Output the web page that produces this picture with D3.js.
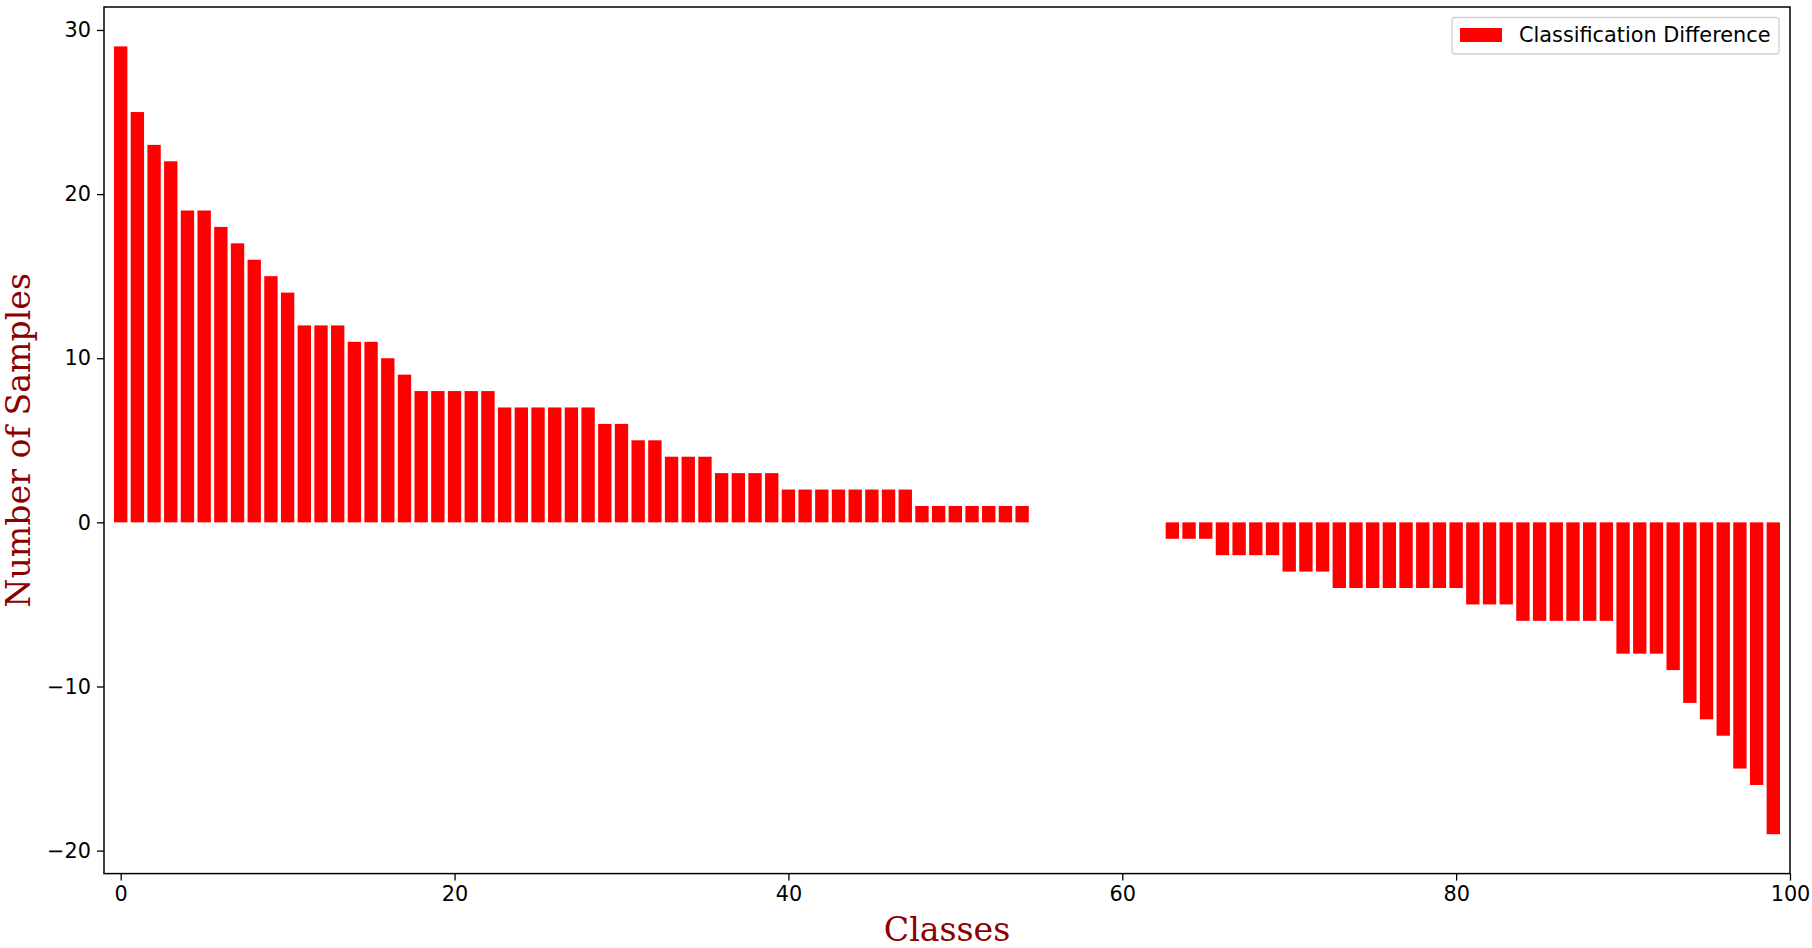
<!DOCTYPE html>
<html>
<head>
<meta charset="utf-8">
<script src="https://cdn.jsdelivr.net/npm/d3@7"></script>
<style>
	body { margin: 0; padding: 0; background: #fff; }
	.tick text { font-family: 'DejaVu Sans', sans-serif; font-size: 20.8px; fill: #000; }
	.tick line { stroke: #000; stroke-width: 1.3; }
	.domain { display: none; }
	.axis_label { font-family: 'DejaVu Serif', serif; font-size: 33.2px; fill: #8b0000; }
	.legend_text { font-family: 'DejaVu Sans', sans-serif; font-size: 20.8px; fill: #000; }
</style>
</head>
<body>
<div id="chart"></div>
<script>
var classes = d3.range(100);
var diffValues = [
	29, 25, 23, 22, 19, 19, 18, 17, 16, 15,
	14, 12, 12, 12, 11, 11, 10, 9, 8, 8,
	8, 8, 8, 7, 7, 7, 7, 7, 7, 6,
	6, 5, 5, 4, 4, 4, 3, 3, 3, 3,
	2, 2, 2, 2, 2, 2, 2, 2, 1, 1,
	1, 1, 1, 1, 1, 0, 0, 0, 0, 0,
	0, 0, 0, -1, -1, -1, -2, -2, -2, -2,
	-3, -3, -3, -4, -4, -4, -4, -4, -4, -4,
	-4, -5, -5, -5, -6, -6, -6, -6, -6, -6,
	-8, -8, -8, -9, -11, -12, -13, -15, -16, -19
];
var xTicks = [0, 20, 40, 60, 80, 100];
var yTicks = [-20, -10, 0, 10, 20, 30];
var seriesName = 'Classification Difference';

(function ()	{
	'use strict';

	var width = 1812, height = 948;
	var plot = { left: 104, right: 1790, top: 7, bottom: 873.6 };

	var svg = d3.select('#chart').append('svg')
							.attr('width', width)
							.attr('height', height);

	// matplotlib style limits: x fixed, y with 5% margins
	var yMin = d3.min(diffValues), yMax = d3.max(diffValues);
	var pad = (yMax - yMin) * 0.05;

	var x = d3.scaleLinear().domain([-1, 100]).range([plot.left, plot.right]);
	var y = d3.scaleLinear().domain([yMin - pad, yMax + pad])
						.range([plot.bottom, plot.top]);

	var barW = x(0.8) - x(0);

	svg.append('g')
		 .selectAll('rect')
		 .data(classes)
		 .enter().append('rect')
		 .attr('x', function (d) { return x(d - 0.4); })
		 .attr('y', function (d) { return y(Math.max(0, diffValues[d])); })
		 .attr('width', barW)
		 .attr('height', function (d) { return Math.abs(y(diffValues[d]) - y(0)); })
		 .attr('fill', '#ff0000');

	svg.append('g')
		 .attr('transform', 'translate(' + plot.left + ', 0)')
		 .call(d3.axisLeft(y).tickValues(yTicks).tickSize(7).tickPadding(6));

	svg.append('g')
		 .attr('transform', 'translate(0, ' + plot.bottom + ')')
		 .call(d3.axisBottom(x).tickValues(xTicks).tickSize(7).tickPadding(6));

	svg.append('rect')
		 .attr('x', plot.left)
		 .attr('y', plot.top)
		 .attr('width', plot.right - plot.left)
		 .attr('height', plot.bottom - plot.top)
		 .attr('fill', 'none')
		 .attr('stroke', '#000')
		 .attr('stroke-width', 1.5);

	svg.append('text')
		 .attr('class', 'axis_label')
		 .attr('x', (plot.left + plot.right) / 2)
		 .attr('y', 941)
		 .attr('text-anchor', 'middle')
		 .text('Classes');

	svg.append('text')
		 .attr('class', 'axis_label')
		 .attr('transform', 'translate(30, ' + (plot.top + plot.bottom) / 2 + ') rotate(-90)')
		 .attr('text-anchor', 'middle')
		 .text('Number of Samples');

	var legend = svg.append('g');

	legend.append('rect')
		 .attr('x', 1452)
		 .attr('y', 17.5)
		 .attr('width', 327)
		 .attr('height', 36.5)
		 .attr('rx', 3)
		 .attr('fill', '#fff')
		 .attr('fill-opacity', 0.8)
		 .attr('stroke', '#d0d0d0')
		 .attr('stroke-width', 1.3);

	legend.append('rect')
		 .attr('x', 1460)
		 .attr('y', 28)
		 .attr('width', 42)
		 .attr('height', 14)
		 .attr('fill', '#ff0000');

	legend.append('text')
		 .attr('class', 'legend_text')
		 .attr('x', 1519)
		 .attr('y', 42)
		 .text(seriesName);
})();
</script>
</body>
</html>
